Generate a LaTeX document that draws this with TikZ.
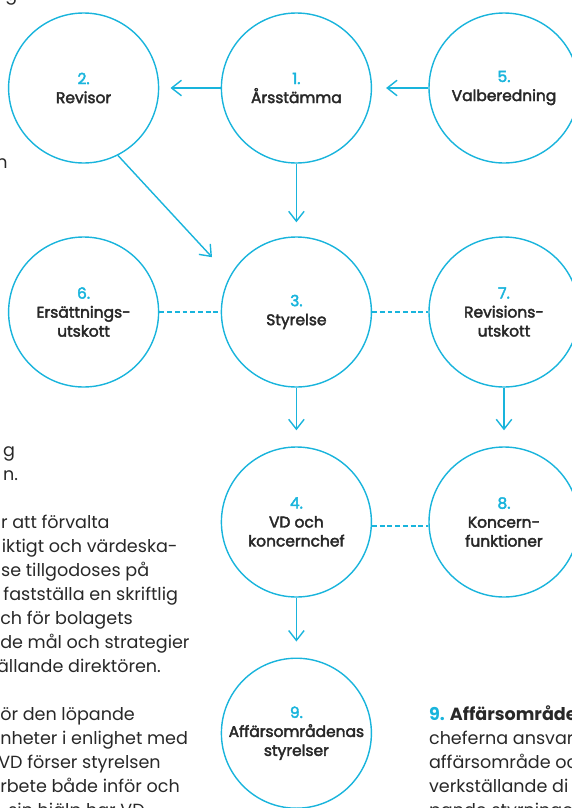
\documentclass[tikz,border=0pt]{standalone}
\usepackage{fontspec}
\setmainfont{Poppins}
\newfontfamily\labelfont{Poppins}[FakeBold=2.6]
\usepackage{tikz}
\usetikzlibrary{shapes,arrows.meta}
\definecolor{orgblue}{RGB}{25,180,220}
\definecolor{orgtext}{RGB}{40,40,40}
\tikzstyle{orgunit}=[circle, draw=orgblue, line width=1pt, minimum size=3.75cm, inner sep=0pt, align=center, text=orgtext, font=\labelfont\fontsize{11pt}{13.5pt}\selectfont]
\tikzstyle{flow}=[draw=orgblue, line width=1pt, -{Straight Barb[length=7pt,width=11pt]}, shorten >=0.4cm]
\tikzstyle{link}=[draw=orgblue, line width=1pt, dash pattern=on 3.5pt off 2pt]
\tikzstyle{bodytext}=[anchor=base west, inner sep=0pt, text=orgtext, font=\fontsize{12.5pt}{15pt}\selectfont]
\newcommand{\orgunit}[4]{
	\node[orgunit] (#1) at (#2) {\textcolor{orgblue}{#3}\\#4};}

\begin{document}
\begin{tikzpicture}
\useasboundingbox (0cm,0cm) rectangle (14.3cm,-20.2cm);
\clip (0cm,0cm) rectangle (14.3cm,-20.2cm);

\orgunit{u2}{2.09cm,-2.2cm}{2.}{Revisor}
\orgunit{u1}{7.41cm,-2.2cm}{1.}{Årsstämma}
\orgunit{u5}{12.6cm,-2.2cm}{5.}{Valberedning}

\orgunit{u6}{2.09cm,-7.8cm}{6.}{Ersättnings-\\utskott}
\orgunit{u3}{7.41cm,-7.8cm}{3.}{Styrelse}
\orgunit{u7}{12.6cm,-7.8cm}{7.}{Revisions-\\utskott}

\orgunit{u4}{7.41cm,-13.05cm}{4.}{VD och\\koncernchef}
\orgunit{u8}{12.6cm,-13.05cm}{8.}{Koncern-\\funktioner}

\orgunit{u9}{7.41cm,-18.33cm}{9.}{Affärsområdenas\\styrelser}

\coordinate (d23) at (5.3cm,-6.43cm);

\path (u1) edge[flow, shorten >=0.28cm] (u2);
\path (u5) edge[flow, shorten >=0.35cm] (u1);
\path (u1) edge[flow, shorten >=0.35cm] (u3);
\path (u2.-63) edge[flow, shorten >=0cm] (d23);
\path (u3) edge[flow] (u4);
\path (u7) edge[flow] (u8);
\path (u4) edge[flow] (u9);
\path (u6) edge[link] (u3);
\path (u3) edge[link] (u7);
\path (u4.-3) edge[link] (u8.-177);

\node[bodytext] (t0) at (0.13cm,0cm) {g};
\node[bodytext] (t1) at (-0.1cm,-4.2cm) {n};
\node[bodytext] (t2) at (0.07cm,-11.4cm) {g};
\node[bodytext] (t3) at (0.07cm,-12.0cm) {n.};
\node[bodytext] (t4) at (0.02cm,-13.2cm) {r att förvalta};
\node[bodytext] (t5) at (0.04cm,-13.8cm) {iktigt och värdeska-};
\node[bodytext] (t6) at (0.02cm,-14.4cm) {se tillgodoses på};
\node[bodytext] (t7) at (0.08cm,-15.0cm) {fastställa en skriftlig};
\node[bodytext] (t8) at (0cm,-15.6cm) {ch för bolagets};
\node[bodytext] (t9) at (0cm,-16.2cm) {de mål och strategier};
\node[bodytext] (t10) at (-0.08cm,-16.8cm) {ällande direktören.};
\node[bodytext] (t11) at (0cm,-18.0cm) {ör den löpande};
\node[bodytext] (t12) at (0cm,-18.6cm) {nheter i enlighet med};
\node[bodytext] (t13) at (-0.05cm,-19.2cm) {VD förser styrelsen};
\node[bodytext] (t14) at (0cm,-19.8cm) {rbete både inför och};
\node[bodytext] (t15) at (0.2cm,-20.4cm) {sin hjälp har VD};

\node[bodytext] (r1) at (10.72cm,-18.0cm) {\textbf{\textcolor{orgblue}{9.} Affärsområde}};
\node[bodytext] (r2) at (10.72cm,-18.6cm) {cheferna ansvar};
\node[bodytext] (r3) at (10.72cm,-19.2cm) {affärsområde oc};
\node[bodytext] (r4) at (10.72cm,-19.8cm) {verkställande di};
\node[bodytext] (r5) at (10.72cm,-20.4cm) {pande styrninge};
\end{tikzpicture}
\end{document}
